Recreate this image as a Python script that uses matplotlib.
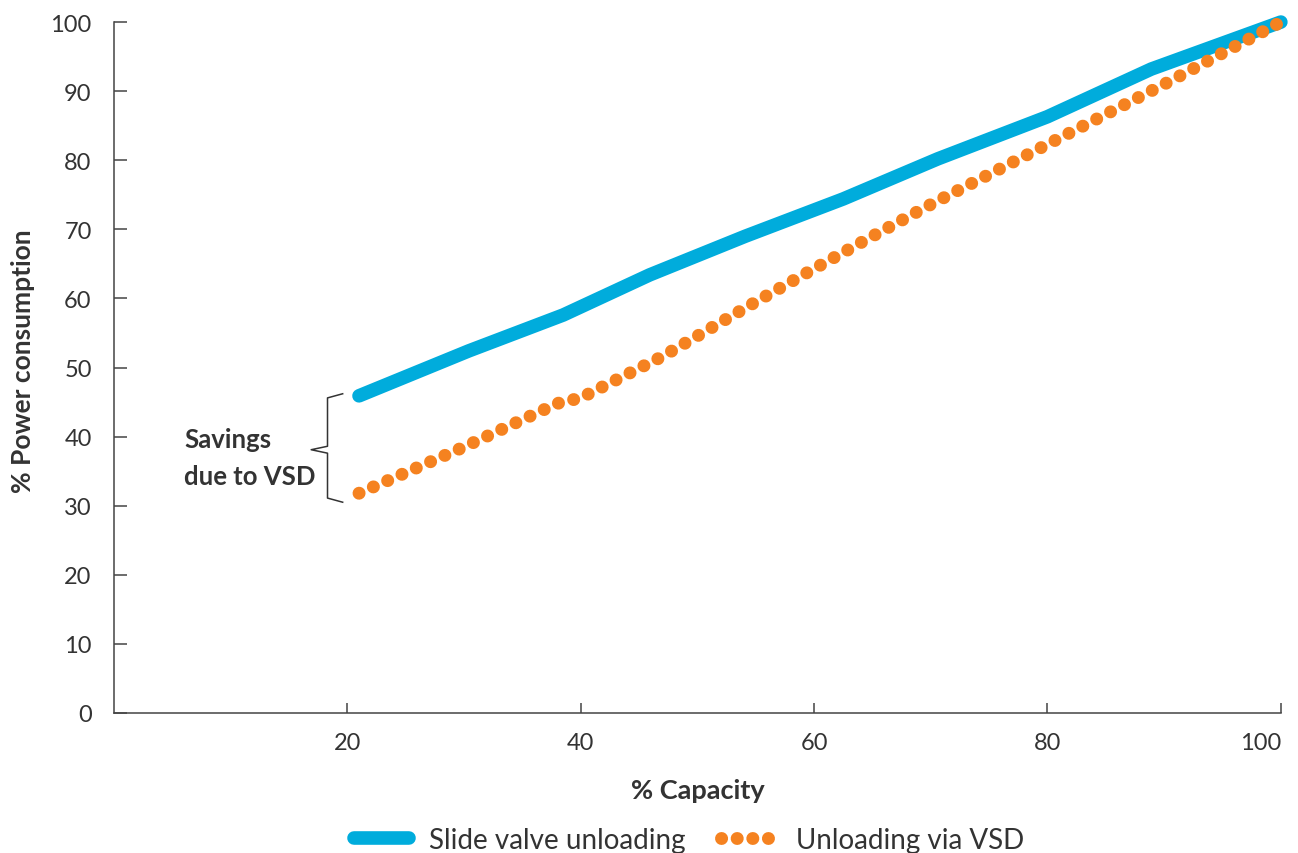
import numpy as np
import matplotlib.pyplot as plt
from matplotlib.lines import Line2D

# % capacity vs % power consumption
slide_x = [21, 30.4, 38.5, 45.9, 54.1, 62.5, 70.6, 80, 88.9, 100]
slide_y = [45.9, 52.4, 57.6, 63.4, 69.0, 74.4, 80.2, 86.3, 93.2, 100]

vsd_x = [21, 30, 38, 40, 47, 55, 60, 65, 70, 80, 90, 100]
vsd_y = [31.8, 38.5, 44.8, 45.6, 51.6, 59.5, 64.3, 69.0, 73.6, 82.3, 91.0, 100]

x_ticks = [20, 40, 60, 80, 100]
y_ticks = [0, 10, 20, 30, 40, 50, 60, 70, 80, 90, 100]

BLUE = '#00acdc'
ORANGE = '#f58220'
DARK = '#333333'


def main():
    plt.rcParams['font.family'] = ['Lato', 'DejaVu Sans']
    fig = plt.figure(figsize=(12.98, 8.54), dpi=100)
    ax = fig.add_axes([0.0878, 0.164, 0.899, 0.809])

    ax.plot(slide_x, slide_y, color=BLUE, lw=9.8, solid_capstyle='round',
            clip_on=False, zorder=3)
    ax.plot(vsd_x, vsd_y, color=ORANGE, lw=9.3, linestyle=(0, (0.01, 1.2)),
            dash_capstyle='round', clip_on=False, zorder=4)

    ax.set_xlim(0, 100)
    ax.set_ylim(0, 100)
    ax.set_xticks(x_ticks)
    ax.set_yticks(y_ticks)
    for s in ['top', 'right']:
        ax.spines[s].set_visible(False)
    for s in ['left', 'bottom']:
        ax.spines[s].set_color('#444444')
        ax.spines[s].set_linewidth(1.1)
    ax.tick_params(axis='y', direction='in', length=9.5, width=1.1,
                   color='#444444', labelsize=17, labelcolor=DARK, pad=16)
    ax.tick_params(axis='x', direction='in', length=7.5, width=1.1,
                   color='#444444', labelsize=17, labelcolor=DARK, pad=14)
    ax.get_xticklabels()[-1].set_horizontalalignment('right')

    ax.set_xlabel('% Capacity', fontsize=19.5, fontweight='bold', color=DARK,
                  labelpad=18)
    ax.set_ylabel('% Power consumption', fontsize=19, fontweight='bold',
                  color=DARK)
    ax.yaxis.set_label_coords(-0.068, 0.51)

    # savings brace
    bx = [19.6, 18.3, 18.3, 16.9, 18.3, 18.3, 19.6]
    by = [46.2, 45.6, 38.6, 38.1, 37.6, 31.1, 30.5]
    ax.plot(bx, by, color=DARK, lw=1.1, clip_on=False)
    ax.text(6.0, 37.0, 'Savings\ndue to VSD', fontsize=18.5,
            fontweight='bold', color=DARK, ha='left', va='center',
            linespacing=1.65)

    handles = [
        Line2D([], [], color=BLUE, lw=9.8, solid_capstyle='round'),
        Line2D([], [], color=ORANGE, lw=9.3, linestyle=(0, (0.01, 1.2)),
               dash_capstyle='round'),
    ]
    fig.legend(handles, ['Slide valve unloading', 'Unloading via VSD'],
               loc='center', bbox_to_anchor=(0.531, 0.015), ncol=2,
               frameon=False, fontsize=20, labelcolor=DARK,
               handlelength=2.0, columnspacing=1.3, handletextpad=0.7)

    fig.savefig('out.png', dpi=100)


if __name__ == "__main__":
    main()
